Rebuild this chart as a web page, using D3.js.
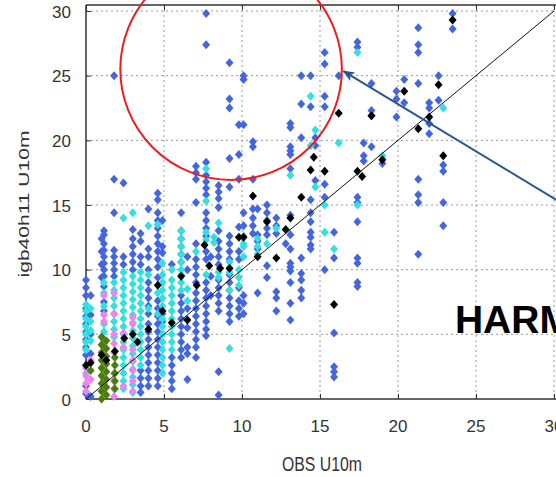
<!DOCTYPE html>
<html><head><meta charset="utf-8">
<script src="https://cdn.jsdelivr.net/npm/d3@7"></script>
<style>html,body{margin:0;padding:0;background:#fff;}svg{display:block;}</style>
</head><body>
<svg id="chart" width="556" height="477"></svg>
<script>
// ---- data (OBS U10m, model U10m), grouped by observation column ----
const xTicks = [0, 5, 10, 15, 20, 25, 30];
const yTicks = [0, 5, 10, 15, 20, 25, 30];
const xLabel = "OBS U10m";
const yLabel = "igb40h11 U10m";
const tag = "HARM";

const blueCols = [
  [0.0, [9.2,8.6,8.0,7.0,6.4,5.8,5.2,4.6,4.0,3.4,1.0,0.4]],
  [0.3, [8.0,6.5,5.0,3.5,0.2]],
  [1.0, [12.4,11.4,10.4,9.4]],
  [1.15,[13.0,12.7,12.0,11.5,11.0,10.5,10.0,9.5,8.7,7.5,6.8]],
  [1.8, [25.0,17.0,14.4,11.5,11.0,10.5,10.0,9.5]],
  [2.4, [16.7,11.0,10.4]],
  [3.0, [13.1,12.4,11.8,11.2,10.6,10.0]],
  [3.5, [12.8,12.2,11.0,10.4,2.2,1.6,1.0,0.5]],
  [4.0, [14.7,11.6,11.0,10.0,9.0,8.4,7.8,7.2,6.6,5.8,5.2,4.6,4.0,3.4,2.8,2.2,1.6,1.0]],
  [4.6, [15.9,15.4,14.4,13.8,13.2,12.6,12.0,11.4,10.8,10.2,9.4,7.6,7.0,6.4,5.8,5.2,4.6,4.0,3.4,2.8,2.2,1.6,1.0]],
  [4.9, [13.8,11.8,11.3,6.6,6.0]],
  [5.5, [10.4,3.2,2.6,2.0,1.4,0.8]],
  [6.1, [14.4,13.0,12.4,11.8,11.2,10.6,8.0,7.4,6.8,6.2,5.6,5.0,4.4,3.8,3.2]],
  [6.5, [11.0,10.0,7.0,5.5,4.0,3.5,1.5]],
  [7.05,[18.0,17.5,17.0,15.2,12.0,10.8,10.2,9.6,9.0,8.2,7.6,7.0,6.4,5.8,5.2,4.6,4.0,3.2]],
  [7.7, [29.8,27.4,18.3,17.3,16.8,16.3,15.8,14.4,13.8,13.2,12.6,11.4,10.8,9.0,8.4,7.8,7.2,6.6,6.0,5.4,4.9]],
  [8.0, [11.0,9.5,8.0]],
  [8.5, [16.5,16.0,15.5,14.8,13.0,12.2,11.6,11.0,10.4,9.2,8.6,8.0,7.4,6.8,2.1,0.3]],
  [9.2, [26.0,23.2,22.5,18.6,16.4,12.6,12.0,11.4,10.8,9.6,9.0,8.4,7.8,7.2,6.6,6.0]],
  [9.8, [21.2,18.9,17.0,13.3,11.4,10.8,8.6,7.6,7.0,6.4]],
  [10.1,[25.0,24.7,21.2,14.4,13.4,8.0,7.4,6.6]],
  [10.7,[19.9,19.5,17.0,14.7,14.0,13.4,12.8]],
  [11.0,[14.7,12.7,12.2,11.6,8.2]],
  [11.6,[15.0,14.4,13.8,13.2,12.7,10.3,9.4]],
  [12.2,[14.0,13.4,12.8,8.3,7.8,6.8]],
  [12.8,[12.0]],
  [13.1,[21.3,21.0,19.5,19.2,18.9,17.8,14.2,12.7,11.6,10.5,10.2,9.9,9.0,7.4,6.1]],
  [13.8,[25.0,22.8,20.2,10.9,9.7,9.2,8.4,7.8]],
  [14.4,[25.0,22.6,15.4,14.4,13.7,12.9,12.5,11.9,11.6]],
  [14.7,[20.2,19.6,16.9]],
  [15.3,[26.8,25.9,23.4,22.6,16.6,15.6,10.0]],
  [15.9,[12.9,10.9,5.1,2.5,2.1,1.7]],
  [16.2,[25.0]],
  [17.4,[27.6,27.2,15.6,15.2,13.7,10.9,10.5,9.0,8.7]],
  [17.8,[19.8,18.8,18.4]],
  [18.3,[24.4,22.3,21.9,19.5]],
  [19.0,[18.2]],
  [19.9,[23.8,23.2,21.8]],
  [20.4,[24.7,22.9]],
  [21.3,[28.7,27.4,26.8,24.4,17.0,15.8,15.2,11.2]],
  [22.0,[22.9,22.5,21.3,20.5]],
  [22.6,[25.0,23.1]],
  [22.9,[18.1,17.6,15.2,13.4]],
  [23.5,[29.8,28.6]]
];

const cyanCols = [
  [0.0, [7.3,6.8,6.2,5.6,5.0,4.4,3.8,2.0]],
  [0.3, [7.0,6.0,5.3,4.5]],
  [1.15,[9.0,8.2,7.2,5.8,5.2,4.5]],
  [1.8, [9.0,8.4,7.8,7.2,6.6,6.0,5.4,4.8]],
  [2.4, [14.0,9.8,9.2,8.6,8.0,7.4,6.8,6.2,5.6,5.0,4.4,3.8,3.2,2.6,2.0,1.4,0.8]],
  [3.0, [14.4,9.5,8.9,8.3,7.7,7.1,6.5,5.9,5.3,4.7,4.1,3.5,2.9,2.3,1.7,1.1,0.5]],
  [3.5, [9.8,9.2,8.6,8.0,7.4,6.8,6.2,5.6,5.0,4.4,3.8,3.2,2.6]],
  [4.0, [13.4,9.6,7.0]],
  [4.6, [13.5,8.2,6.6]],
  [4.9, [10.5,9.6,9.0,8.4,7.8,7.2,6.2,5.6,5.0,4.4,3.8,3.2,2.6,2.0]],
  [5.5, [10.0,9.2,8.6,8.0,7.4,6.8,6.2,5.6,5.0,4.4,3.8]],
  [6.1, [13.0,12.4,11.8,11.2,10.6,10.0,9.6,9.0,8.4]],
  [6.5, [8.5,7.6]],
  [7.05,[11.4]],
  [7.7, [17.8,15.3,12.9,12.3,9.6]],
  [8.2, [12.5,12.1]],
  [8.5, [13.6,9.8,9.4]],
  [9.2, [10.6,9.8,8.4,3.9]],
  [9.8, [10.0,9.4,8.8]],
  [10.1,[12.6,12.0,11.8,11.0]],
  [11.0,[12.4,11.8,11.2]],
  [11.6,[12.0]],
  [12.2,[13.2]],
  [13.1,[17.3]],
  [14.4,[23.4,19.6]],
  [14.7,[20.8,16.4]],
  [15.3,[15.0,12.9]],
  [15.9,[11.6]],
  [16.2,[19.8]],
  [17.4,[26.8,15.0]],
  [19.0,[18.8]],
  [22.9,[22.5]]
];

const violetCols = [
  [0.0, [2.4,1.8,1.2,0.6]],
  [0.3, [3.0,1.5]],
  [1.15,[8.0,6.5,6.0,4.6,4.0,1.5,1.0,0.5]],
  [1.8, [8.2,6.6,5.0,4.3,3.6,2.0,1.4,0.8,0.2]],
  [2.4, [5.1,4.0,1.0]],
  [3.0, [6.3,5.8,3.8,3.0,2.2,1.4,0.6]]
];

const greenCols = [
  [0.3, [2.2]],
  [1.0, [4.8,4.2,3.6,3.0,2.4,1.8,1.2,0.6,0.0]],
  [1.3, [4.5,3.9,3.3,2.7,2.1,1.5,0.9,0.3]],
  [1.85,[3.2,2.6,2.0,1.4,0.8]]
];

const blackPts = [
  [0.0,2.6],[0.3,2.8],[1.0,3.4],[1.3,3.0],[1.85,3.7],[2.45,4.7],[3.0,5.0],[3.3,4.4],
  [4.0,5.4],[4.6,8.8],[4.9,6.8],[5.5,5.9],[6.1,9.5],[6.5,6.1],[7.1,8.8],[7.6,11.9],
  [7.9,10.3],[8.6,10.1],[9.2,10.1],[9.8,12.5],[10.1,12.5],[10.7,15.7],[11.0,11.0],
  [11.6,13.7],[12.2,10.9],[12.8,13.1],[13.1,14.0],[13.8,15.6],[14.4,17.7],[14.6,18.7],
  [15.3,17.6],[15.9,7.3],[16.2,22.1],[17.4,17.6],[17.7,17.2],[18.3,21.9],[19.0,18.5],
  [20.4,23.8],[21.3,20.9],[22.0,21.8],[22.6,24.3],[22.9,18.8],[23.5,29.3]
];

// annotation anchors (data units)
const circleCenter = [9.3, 25.5];
const circleRadiusX = 7.1;
const arrowFrom = [30.15, 15.4];
const arrowTo = [16.5, 25.35];
const tagPos = [23.65, 5.1];

// ---- drawing ----
(function () {
const flatten = cols => cols.flatMap(([x, ys]) => ys.map(y => [x, y]));

const svg = d3.select("#chart");
svg.append("rect").attr("width", 556).attr("height", 477).attr("fill", "#fff");

const x = d3.scaleLinear().domain([0, 30]).range([86, 554]);
const y = d3.scaleLinear().domain([0, 30]).range([399, 11]);
const pTop = 5, pLeft = 86, pBottom = 399, pRight = 556;

// grid
const grid = svg.append("g").attr("stroke", "#9a9a9a").attr("stroke-width", 1)
  .attr("stroke-dasharray", "2,3").attr("fill", "none");
xTicks.filter(t => t > 0).forEach(t => {
  grid.append("line").attr("x1", x(t)).attr("x2", x(t)).attr("y1", pTop).attr("y2", pBottom);
});
yTicks.filter(t => t > 0).forEach(t => {
  grid.append("line").attr("x1", pLeft).attr("x2", pRight).attr("y1", y(t)).attr("y2", y(t));
});

// axes via d3 axis generators (inward ticks)
const axisColor = "#333";
const gx = svg.append("g").attr("transform", `translate(0,${pBottom})`)
  .call(d3.axisBottom(x).tickValues(xTicks).tickSizeInner(-5).tickSizeOuter(0).tickPadding(0).tickFormat(""));
const gy = svg.append("g").attr("transform", `translate(${pLeft},0)`)
  .call(d3.axisLeft(y).tickValues(yTicks).tickSizeInner(-5).tickSizeOuter(0).tickPadding(0).tickFormat(""));
const gt = svg.append("g").attr("transform", `translate(0,${pTop})`)
  .call(d3.axisTop(x).tickValues(xTicks).tickSizeInner(-5).tickSizeOuter(0).tickFormat(""));
[gx, gy, gt].forEach(g => {
  g.selectAll(".domain").remove();
  g.selectAll("line").attr("stroke", axisColor);
});
svg.append("line").attr("x1", pLeft).attr("x2", pRight).attr("y1", pBottom).attr("y2", pBottom)
  .attr("stroke", axisColor).attr("stroke-width", 1.5);
svg.append("line").attr("x1", pLeft).attr("x2", pLeft).attr("y1", pTop).attr("y2", pBottom)
  .attr("stroke", axisColor).attr("stroke-width", 1.5);
svg.append("line").attr("x1", pLeft).attr("x2", pRight).attr("y1", pTop).attr("y2", pTop)
  .attr("stroke", axisColor).attr("stroke-width", 1.5);

// tick labels
const font = "'Liberation Sans', Arial, sans-serif";
svg.append("g").selectAll("text").data(xTicks).join("text")
  .attr("x", d => x(d)).attr("y", 432).attr("text-anchor", "middle")
  .attr("font-family", font).attr("font-size", 17).attr("fill", "#333").text(d => d);
svg.append("g").selectAll("text").data(yTicks).join("text")
  .attr("x", 71).attr("y", d => y(d) + 6.5).attr("text-anchor", "end")
  .attr("font-family", font).attr("font-size", 17).attr("fill", "#333").text(d => d);

// axis labels
svg.append("text").attr("transform", "translate(322,471) scale(1,1.25)")
  .attr("text-anchor", "middle").attr("font-family", font).attr("font-size", 16)
  .attr("textLength", 80).attr("lengthAdjust", "spacingAndGlyphs")
  .attr("fill", "#333").text(xLabel);
svg.append("text").attr("transform", "translate(29,204) rotate(-90)")
  .attr("text-anchor", "middle").attr("font-family", font).attr("font-size", 15)
  .attr("textLength", 147).attr("lengthAdjust", "spacingAndGlyphs")
  .attr("fill", "#333").text(yLabel);

// points
const diamond = "M0,-4.5L4,0L0,4.5L-4,0Z";
function drawPts(pts, color) {
  svg.append("g").selectAll("path").data(pts).join("path")
    .attr("d", diamond)
    .attr("transform", d => `translate(${x(d[0])},${y(d[1])})`)
    .attr("fill", color);
}
drawPts(flatten(blueCols), "#4466dd");
drawPts(flatten(cyanCols), "#33e0e0");
drawPts(flatten(violetCols), "#ee82ee");
drawPts(flatten(greenCols), "#4a7d0c");
drawPts(blackPts, "#000");

// 1:1 line
svg.append("line").attr("x1", x(0)).attr("y1", y(0)).attr("x2", x(30)).attr("y2", y(30))
  .attr("stroke", "#111").attr("stroke-width", 1);

// annotations
const r = x(circleRadiusX) - x(0);
svg.append("circle").attr("cx", x(circleCenter[0])).attr("cy", y(circleCenter[1])).attr("r", r)
  .attr("fill", "none").attr("stroke", "#ee1c1c").attr("stroke-width", 2);

const defs = svg.append("defs");
defs.append("marker").attr("id", "ah").attr("viewBox", "0 0 12 10").attr("refX", 11).attr("refY", 5)
  .attr("markerWidth", 12).attr("markerHeight", 10).attr("markerUnits", "userSpaceOnUse")
  .attr("orient", "auto")
  .append("path").attr("d", "M0,0L12,5L0,10L3,5Z").attr("fill", "#2a5590");
svg.append("line").attr("x1", x(arrowFrom[0])).attr("y1", y(arrowFrom[1]))
  .attr("x2", x(arrowTo[0])).attr("y2", y(arrowTo[1]))
  .attr("stroke", "#2a5590").attr("stroke-width", 2).attr("marker-end", "url(#ah)");

svg.append("text").attr("x", x(tagPos[0])).attr("y", y(tagPos[1]))
  .attr("font-family", font).attr("font-weight", "bold").attr("font-size", 39)
  .attr("fill", "#000").text(tag);
})();
</script>
</body></html>
